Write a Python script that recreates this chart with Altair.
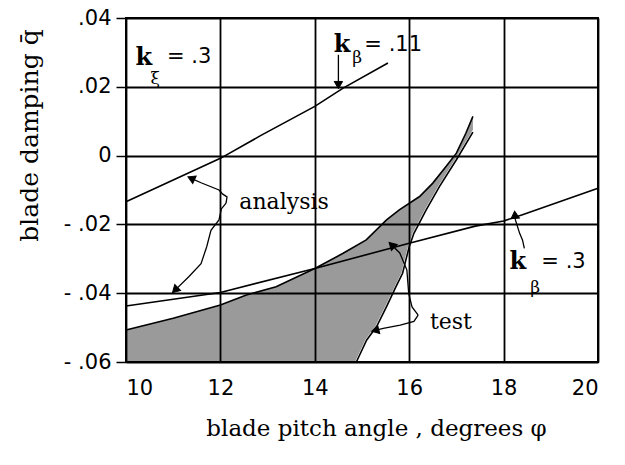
import math
import altair as alt
import pandas as pd

# ---------------- data ----------------
x_ticks = [10, 12, 14, 16, 18, 20]
y_ticks = [-0.06, -0.04, -0.02, 0.0, 0.02, 0.04]

# analysis curve (upper line, k_beta = .11)
upper_x = [10, 12, 12.85, 14, 14.6, 15.55]
upper_y = [-0.0134, -0.0008, 0.0058, 0.0143, 0.0196, 0.0269]

# analysis curve (lower line, k_beta = .3)
lower_x = [10, 12, 14, 16, 17.4, 18, 18.4, 20]
lower_y = [-0.0437, -0.0398, -0.0328, -0.0255, -0.0205, -0.019, -0.0172, -0.0095]

# test band: upper-left edge and right edge
test_left_x = [10, 11, 12, 12.55, 13.18, 14, 14.6, 15.09, 15.52, 15.79, 16.22, 16.5, 16.78, 17.0, 17.2, 17.35]
test_left_y = [-0.0507, -0.0473, -0.0434, -0.0405, -0.0381, -0.0328, -0.0284, -0.0245, -0.0187, -0.0158,
               -0.0119, -0.008, -0.0032, 0.0007, 0.0065, 0.0114]
test_right_x = [14.88, 15.1, 15.31, 15.52, 15.72, 15.86, 15.93, 16.0, 16.1, 16.36, 16.64, 17.0, 17.35]
test_right_y = [-0.06, -0.0536, -0.0497, -0.0439, -0.0381, -0.0342, -0.0303, -0.0265, -0.0226, -0.0158,
                -0.009, -0.0012, 0.0068]

# annotation leader lines (last point = arrow tip)
arrow_analysis_up_x = [12.12, 12.14, 12.05, 11.97, 11.59, 11.38]
arrow_analysis_up_y = [-0.0138, -0.012, -0.0112, -0.010, -0.0079, -0.0066]
arrow_analysis_dn_x = [12.12, 12.02, 11.97, 11.8, 11.71, 11.59, 11.33, 11.04]
arrow_analysis_dn_y = [-0.0138, -0.0155, -0.0187, -0.0217, -0.0265, -0.0314, -0.0352, -0.0391]
arrow_test_up_x = [16.19, 16.06, 15.99, 15.95, 15.8, 15.63]
arrow_test_up_y = [-0.0464, -0.044, -0.0401, -0.0332, -0.0283, -0.026]
arrow_test_dn_x = [16.19, 16.1, 15.81, 15.45, 15.28]
arrow_test_dn_y = [-0.0464, -0.0482, -0.0493, -0.0502, -0.0508]
arrow_kb11_x = [14.5, 14.5]
arrow_kb11_y = [0.0293, 0.0205]
arrow_kb3_x = [18.44, 18.4, 18.34, 18.25, 18.24]
arrow_kb3_y = [-0.027, -0.0245, -0.0226, -0.0187, -0.0172]

# annotation texts
k_x = [10.38, 14.58, 18.30]
k_y = [0.0284, 0.0322, -0.0309]
sub_text = ["ξ", "β", "β"]
sub_x = [10.62, 14.9, 18.67]
sub_y = [0.0222, 0.0283, -0.0386]
eq_text = ["= .3", "= .11", "= .3"]
eq_x = [10.87, 15.05, 18.80]
eq_y = [0.0287, 0.0322, -0.0309]
word_text = ["analysis", "test"]
word_x = [12.40, 16.44]
word_y = [-0.0134, -0.0483]

# ---------------- layout ----------------
W, H = 472, 344
XMIN, XMAX, YMIN, YMAX = 10, 20, -0.06, 0.04


def px(v):
    return (v - XMIN) / (XMAX - XMIN) * W


def py(v):
    return (YMAX - v) / (YMAX - YMIN) * H


xscale = alt.Scale(domain=[XMIN, XMAX], nice=False, zero=False)
yscale = alt.Scale(domain=[YMIN, YMAX], nice=False, zero=False)

xaxis = alt.Axis(
    values=x_ticks, grid=True, gridColor="black", gridWidth=1.8, gridOpacity=1,
    domain=False, ticks=False, labelPadding=15, labelFont="DejaVu Sans", labelFontSize=21,
    labelColor="black", title="blade pitch angle , degrees φ", titleFont="DejaVu Serif",
    titleFontSize=23, titleFontWeight="normal", titleColor="black", titleX=250, titleY=66,
    titleAlign="center", titleBaseline="middle", zindex=1,
)
yaxis = alt.Axis(
    values=y_ticks, grid=True, gridColor="black", gridWidth=1.8, gridOpacity=1,
    domain=False, ticks=True, tickSize=10, tickColor="black", tickWidth=1.5,
    labelPadding=5, labelFont="DejaVu Sans", labelFontSize=21, labelColor="black",
    labelExpr="abs(datum.value) < 1e-9 ? '0' : (datum.value < 0 ? '- ' : '') + replace(format(abs(datum.value), '.2f'), '0.', '.')",
    title="blade damping q̄", titleFont="DejaVu Serif", titleFontSize=25, titleFontWeight="normal",
    titleColor="black", titleAngle=270, titleX=-97, titleY=117, titleAlign="center",
    titleBaseline="middle", zindex=1,
)


def X(field="x"):
    return alt.X(f"{field}:Q", scale=xscale, axis=xaxis)


def Y(field="y"):
    return alt.Y(f"{field}:Q", scale=yscale, axis=yaxis)


# ---------------- tables ----------------
df_left = pd.DataFrame({"x": test_left_x, "y": test_left_y})
df_right = pd.DataFrame({"x": test_right_x, "y": test_right_y})

curves = {
    "upper": (upper_x, upper_y),
    "lower": (lower_x, lower_y),
    "test_left": (test_left_x, test_left_y),
    "test_right": (test_right_x, test_right_y),
}
rows = []
for name, (xs, ys) in curves.items():
    for i, (a, b) in enumerate(zip(xs, ys)):
        rows.append({"x": a, "y": b, "series": name, "o": i})
df_curves = pd.DataFrame(rows)

arrows = {
    "a_up": (arrow_analysis_up_x, arrow_analysis_up_y),
    "a_dn": (arrow_analysis_dn_x, arrow_analysis_dn_y),
    "t_up": (arrow_test_up_x, arrow_test_up_y),
    "t_dn": (arrow_test_dn_x, arrow_test_dn_y),
    "kb11": (arrow_kb11_x, arrow_kb11_y),
    "kb3": (arrow_kb3_x, arrow_kb3_y),
}
rows = []
heads = []
for name, (xs, ys) in arrows.items():
    for i, (a, b) in enumerate(zip(xs, ys)):
        rows.append({"x": a, "y": b, "series": name, "o": i})
    dx = px(xs[-1]) - px(xs[-2])
    dy = py(ys[-1]) - py(ys[-2])
    ang = math.degrees(math.atan2(dx, -dy)) % 360
    heads.append({"x": xs[-1], "y": ys[-1], "angle": ang})
df_arrows = pd.DataFrame(rows)
df_heads = pd.DataFrame(heads)

df_k = pd.DataFrame({"x": k_x, "y": k_y, "t": ["k"] * len(k_x)})
df_sub = pd.DataFrame({"x": sub_x, "y": sub_y, "t": sub_text})
df_eq = pd.DataFrame({"x": eq_x, "y": eq_y, "t": eq_text})
df_word = pd.DataFrame({"x": word_x, "y": word_y, "t": word_text})

# ---------------- layers ----------------
gray = alt.Chart(df_left).mark_area(color="#9a9a9a", opacity=1).encode(
    x=X(), y=Y(), y2=alt.datum(YMIN))
white = alt.Chart(df_right).mark_area(
    fill="white", stroke="white", strokeWidth=2.5, opacity=1).encode(
    x=X(), y=Y(), y2=alt.datum(YMIN))

bottom_rule = alt.Chart(pd.DataFrame({"y": [y_ticks[0]]})).mark_rule(
    color="black", strokeWidth=2).encode(y=Y())

curve_lines = alt.Chart(df_curves).mark_line(color="black", strokeWidth=1.6).encode(
    x=X(), y=Y(), detail="series:N", order="o:Q")
arrow_lines = alt.Chart(df_arrows).mark_line(color="black", strokeWidth=1.3).encode(
    x=X(), y=Y(), detail="series:N", order="o:Q")
arrow_heads = alt.Chart(df_heads).mark_point(
    shape="triangle-up", filled=True, fill="black", stroke="black", strokeWidth=1,
    opacity=1, fillOpacity=1, size=70).encode(
    x=X(), y=Y(), angle=alt.Angle("angle:Q", scale=None))

k_text = alt.Chart(df_k).mark_text(
    font="DejaVu Serif", fontSize=24, fontWeight="bold", color="black", align="center",
    baseline="middle").encode(x=X(), y=Y(), text="t:N")
sub_txt = alt.Chart(df_sub).mark_text(
    font="DejaVu Serif", fontSize=17, color="black", align="center",
    baseline="middle").encode(x=X(), y=Y(), text="t:N")
eq_txt = alt.Chart(df_eq).mark_text(
    font="DejaVu Sans", fontSize=21, color="black", align="left",
    baseline="middle").encode(x=X(), y=Y(), text="t:N")
word_txt = alt.Chart(df_word).mark_text(
    font="DejaVu Serif", fontSize=22, color="black", align="left",
    baseline="middle").encode(x=X(), y=Y(), text="t:N")

chart = alt.layer(
    gray, white, bottom_rule, curve_lines, arrow_lines, arrow_heads,
    k_text, sub_txt, eq_txt, word_txt
).properties(
    width=W, height=H,
    padding={"left": 126, "top": 18, "right": 27, "bottom": 103},
    autosize=alt.AutoSizeParams(type="none"),
    background="white",
).configure_view(stroke="black", strokeWidth=2)

chart.save("out.html", embed_options={"renderer": "svg", "actions": False})
